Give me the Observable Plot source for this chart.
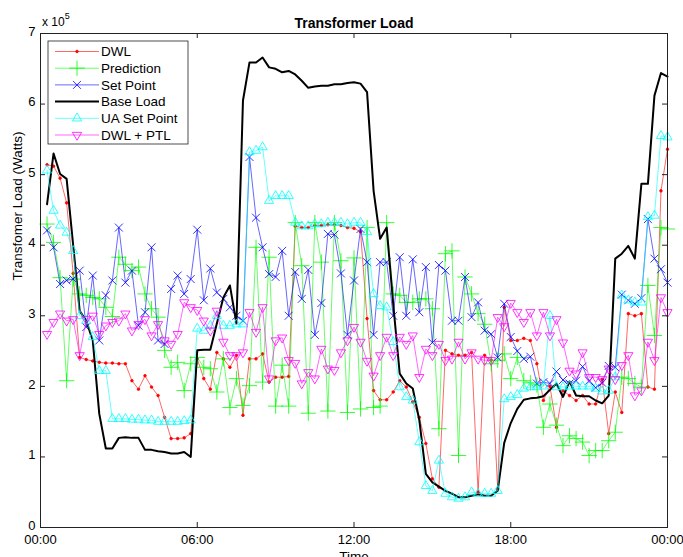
<!DOCTYPE html>
<html><head><meta charset="utf-8">
<script src="https://cdn.jsdelivr.net/npm/d3@7"></script>
<script src="https://cdn.jsdelivr.net/npm/@observablehq/plot@0.6"></script>
<style>body{margin:0;background:#fff}</style>
</head><body><div id="chart"></div>
<script>
// values in units of 1e5 W, one point every 15 minutes from 00:15 to 24:00
const dwl = [5.14,5.12,4.95,4.60,3.60,2.41,2.38,2.36,2.34,2.33,2.33,2.32,2.32,2.08,1.96,2.15,1.99,1.87,1.56,1.26,1.26,1.27,1.33,2.39,
2.11,1.96,2.48,2.39,2.27,2.44,1.59,2.39,2.39,2.46,2.06,2.13,2.13,2.14,4.27,4.25,4.25,4.28,4.28,4.29,4.29,4.28,4.25,4.24,
4.19,2.96,1.94,1.81,1.81,1.92,2.08,1.99,1.78,1.56,1.19,0.69,0.57,2.51,2.46,2.44,2.44,2.48,0.50,2.44,2.37,0.55,3.12,2.65,
2.65,2.68,2.65,2.32,1.80,2.00,1.42,1.94,1.87,1.80,1.87,1.75,1.75,2.10,1.33,1.92,1.63,3.03,3.00,3.03,1.99,1.96,4.77,5.36];
const prediction = [4.30,4.04,3.54,2.08,3.52,3.31,3.29,3.26,3.24,3.12,2.99,3.83,3.73,3.64,3.69,3.31,3.10,2.98,2.51,2.27,2.34,1.94,2.32,2.41,
2.27,2.25,1.92,2.39,1.70,2.11,1.73,2.01,3.97,2.06,3.83,1.72,2.30,1.72,4.32,3.71,1.62,4.32,3.76,1.65,4.32,3.78,1.63,3.82,
1.68,4.25,1.70,1.72,4.32,3.31,3.29,3.19,3.19,3.24,3.24,3.10,1.40,3.88,3.92,1.02,3.55,3.31,3.03,2.88,2.32,2.37,2.46,2.11,
2.41,2.08,2.05,2.02,1.42,1.75,1.45,1.16,1.30,1.26,1.21,1.02,1.09,1.09,1.23,1.35,2.13,2.11,2.04,1.99,3.43,2.72,4.25,4.23];
const setPoint = [4.21,3.97,3.45,3.50,3.52,3.64,2.84,3.57,2.65,3.29,3.50,4.25,3.47,3.64,2.86,3.05,3.97,2.65,2.60,3.38,3.57,3.31,3.52,4.22,
3.22,3.67,3.33,3.24,3.12,3.00,2.93,5.25,4.39,3.97,3.59,3.55,3.92,3.00,3.62,3.24,3.65,2.73,3.18,4.16,4.15,3.60,2.73,3.50,
4.23,3.76,2.73,3.76,3.76,3.00,3.83,3.00,3.80,3.05,3.69,2.62,3.72,3.64,2.93,2.93,3.55,2.98,3.19,2.79,2.74,2.41,3.17,2.70,
2.50,2.39,2.42,2.04,2.06,2.04,2.21,2.09,2.04,2.08,2.28,2.08,1.98,2.05,2.29,2.27,3.30,3.22,3.17,3.25,4.37,3.81,3.66,3.47];
const baseLoad = [4.58,5.30,5.01,4.94,4.00,3.07,2.93,2.65,1.61,1.12,1.12,1.27,1.28,1.27,1.27,1.10,1.10,1.08,1.07,1.05,1.05,1.07,1.00,2.51,
2.52,2.52,2.89,3.26,3.43,2.89,6.05,6.59,6.59,6.66,6.52,6.50,6.45,6.47,6.42,6.33,6.23,6.25,6.26,6.26,6.28,6.28,6.30,6.31,
6.29,6.17,4.77,4.09,4.25,3.17,2.18,2.04,1.97,1.52,0.76,0.64,0.58,0.52,0.48,0.43,0.43,0.45,0.47,0.45,0.45,0.52,1.20,1.48,
1.68,1.81,1.83,1.84,1.86,1.95,2.04,1.85,2.07,1.87,1.86,1.86,1.80,1.76,1.87,3.81,3.88,3.99,3.81,4.87,4.87,6.12,6.44,6.39];
const uaSetPoint = [5.06,4.49,4.28,4.18,3.92,3.00,2.93,2.70,2.22,2.22,1.54,1.54,1.54,1.53,1.53,1.52,1.52,1.50,1.50,1.50,1.50,1.51,1.52,2.82,
2.79,2.86,3.00,2.86,2.86,2.88,2.88,5.32,5.34,5.39,4.63,4.70,4.70,4.70,4.32,4.27,4.27,4.30,4.30,4.32,4.32,4.32,4.30,4.32,
4.32,4.19,3.31,3.14,3.12,2.63,1.99,1.85,1.80,1.21,0.59,0.52,0.95,0.48,0.43,0.41,0.43,0.50,0.48,0.48,0.48,0.52,1.82,1.85,
1.88,1.97,1.99,1.99,2.00,3.00,1.99,1.99,2.00,2.00,2.00,2.00,1.97,1.93,1.94,2.13,3.29,3.22,3.19,3.19,4.40,4.42,5.55,5.53];
const dwlPtl = [2.74,2.91,3.03,2.93,2.95,2.44,2.95,3.00,2.74,2.86,2.91,2.93,3.03,2.79,2.88,2.95,2.72,2.88,2.65,2.60,2.74,3.19,3.12,3.08,
2.93,2.79,3.07,2.63,2.44,2.44,2.48,3.05,2.77,3.12,2.11,2.65,2.69,2.37,2.33,2.04,2.20,2.11,2.53,2.25,2.23,2.48,2.65,2.84,
2.63,2.36,2.15,2.44,2.70,2.44,2.70,2.60,2.72,2.13,2.53,2.44,2.60,2.37,2.39,2.63,2.39,2.48,2.39,2.37,2.37,2.98,2.85,3.18,
3.05,2.91,3.05,2.72,3.05,2.72,2.95,2.62,2.22,2.18,2.48,2.13,2.13,2.10,2.25,2.10,2.30,2.44,1.87,1.94,2.63,2.37,3.26,3.05];

const seriesNames = ["DWL","Prediction","Set Point","Base Load","UA Set Point","DWL + PTL"];
const xTicks = [0,6,12,18,24];
const xTickLabels = ["00:00","06:00","12:00","18:00","00:00"];
const yTicks = [0,1,2,3,4,5,6,7];
const yTickLabels = ["0","1","2","3","4","5","6","7"];

const triDown = {draw(ctx, size){ const y = Math.sqrt(size/(Math.sqrt(3)*3)); ctx.moveTo(0, 2*y); ctx.lineTo(-Math.sqrt(3)*y, -y); ctx.lineTo(Math.sqrt(3)*y, -y); ctx.closePath(); }};

const series = [
  {name: seriesNames[0], values: dwl, color: "#ff0000", symbol: d3.symbolCircle, r: 1.3, fill: "#ff0000", width: 0.6},
  {name: seriesNames[1], values: prediction, color: "#00ff00", symbol: d3.symbolPlus, r: 5, fill: "none", width: 0.6},
  {name: seriesNames[2], values: setPoint, color: "#0000ff", symbol: d3.symbolTimes, r: 3.7, fill: "none", width: 0.6},
  {name: seriesNames[3], values: baseLoad, color: "#000000", symbol: null, r: 0, fill: "none", width: 2},
  {name: seriesNames[4], values: uaSetPoint, color: "#00ffff", symbol: d3.symbolTriangle, r: 3.4, fill: "none", width: 0.6},
  {name: seriesNames[5], values: dwlPtl, color: "#ff00ff", symbol: triDown, r: 3.4, fill: "none", width: 0.6}
];

const W = 683, H = 557, mL = 40, mR = 16, mT = 33, mB = 30;
const iw = W - mL - mR, ih = H - mT - mB;
const seriesMarks = series.flatMap(s => {
  const pts = s.values.map((v, k) => ({t: (k + 1) / 4, v}));
  const m = [Plot.line(pts, {x: "t", y: "v", stroke: s.color, strokeWidth: s.width})];
  if (s.symbol) m.push(Plot.dot(pts, {x: "t", y: "v", symbol: s.symbol, r: s.r, stroke: s.color, strokeWidth: 0.8, fill: s.fill}));
  return m;
});

const plot = Plot.plot({
  width: W, height: H, marginLeft: mL, marginRight: mR, marginTop: mT, marginBottom: mB,
  style: {fontFamily: "'Liberation Sans', Arial, sans-serif", fontSize: "13px", background: "white", color: "black"},
  x: {domain: [0, 24], label: null},
  y: {domain: [0, 7], label: null},
  marks: [
    ...seriesMarks,
    Plot.frame({stroke: "#222"}),
    Plot.tickX(xTicks, {x: d => d, stroke: "#222", insetTop: ih - 5}),
    Plot.tickX(xTicks, {x: d => d, stroke: "#222", insetBottom: ih - 5}),
    Plot.tickY(yTicks, {y: d => d, stroke: "#222", insetRight: iw - 5}),
    Plot.tickY(yTicks, {y: d => d, stroke: "#222", insetLeft: iw - 5}),
    Plot.axisX(xTicks, {tickSize: 0, tickPadding: 7, tickFormat: d => xTickLabels[xTicks.indexOf(d)], fontSize: 13}),
    Plot.axisY(yTicks, {tickSize: 0, tickPadding: 5, tickFormat: d => yTickLabels[yTicks.indexOf(d)], fontSize: 13, dy: -2}),
    Plot.text(["Transformer Load"], {text: d => d, frameAnchor: "top", dy: -15, fontWeight: "bold", fontSize: 14}),
    Plot.text(["Transfomer Load (Watts)"], {text: d => d, frameAnchor: "left", rotate: -90, dx: -23, fontSize: 13.5}),
    Plot.text(["Time"], {text: d => d, frameAnchor: "bottom", dy: 33, fontSize: 13.5})
  ]
});

const svg = d3.select(plot);
// exponent label
const ex = svg.append("text").attr("x", 42).attr("y", 26).attr("font-size", 12).attr("fill", "black").attr("text-anchor", "start");
ex.append("tspan").text("x 10");
ex.append("tspan").attr("dy", -7).attr("font-size", 9).text("5");

// legend
const lg = svg.append("g").attr("font-size", 13.5).attr("fill", "black").attr("text-anchor", "start");
lg.append("rect").attr("x", 48).attr("y", 41).attr("width", 140).attr("height", 103)
  .attr("fill", "white").attr("stroke", "#222").attr("stroke-width", 0.8);
series.forEach((s, k) => {
  const y = 51.5 + k * 16.7;
  lg.append("line").attr("x1", 55).attr("x2", 99).attr("y1", y).attr("y2", y)
    .attr("stroke", s.color).attr("stroke-width", s.width);
  if (s.symbol) lg.append("path").attr("transform", `translate(77,${y})`)
    .attr("d", d3.symbol(s.symbol, Math.PI * s.r * s.r)())
    .attr("fill", s.fill).attr("stroke", s.color).attr("stroke-width", 0.8);
  lg.append("text").attr("x", 101).attr("y", y).attr("dy", "0.35em").text(s.name);
});

document.getElementById("chart").append(plot);
</script>
</body></html>
